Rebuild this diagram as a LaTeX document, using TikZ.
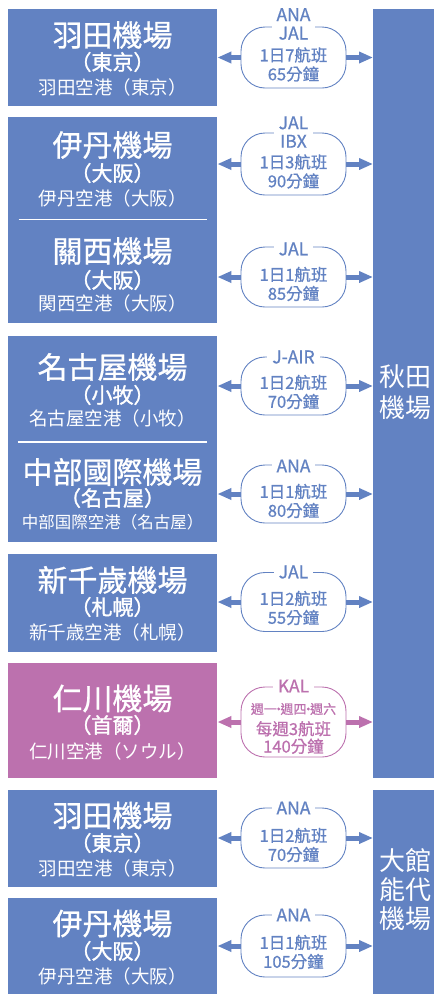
\documentclass[tikz,border=0pt]{standalone}
\usepackage{fontspec}
\usetikzlibrary{arrows.meta}
\newfontfamily\cjk{Noto Sans CJK TC}
\newfontfamily\cjkm[FakeBold=0.8]{Noto Sans CJK TC}
\newfontfamily\cjkb[FakeBold=1.5]{Noto Sans CJK TC}
\definecolor{ablue}{HTML}{6282C2}
\definecolor{apink}{HTML}{BC71AE}
\newcommand{\fsz}[2]{\fontsize{#1}{#2}\selectfont}
\newcommand{\mdot}{\kern-0.36em·\kern-0.36em}
\begin{document}
\begin{tikzpicture}[x=1pt,y=-1pt,
  apbox/.style={fill=ablue, draw=none, inner sep=0, anchor=north west},
  ttl/.style={text=white, inner sep=0, font=\cjkm\fsz{30}{30}},
  brk/.style={text=white, inner sep=0, font=\cjkb\fsz{21}{21}},
  subt/.style={text=white, inner sep=0, font=\cjk\fsz{18.5}{18.5}},
  rtxt/.style={text=white, inner sep=0, anchor=west, align=left, font=\cjk\fsz{26}{31}},
  bub/.style={draw=ablue, line width=0.9pt, rounded corners=24pt, minimum width=105pt, inner sep=0},
  lbl/.style={text=ablue, fill=white, inner xsep=5pt, inner ysep=1pt, align=center, font=\cjkm\fsz{17.5}{18.5}},
  cnt/.style={text=ablue, inner sep=0, align=center, font=\cjkm\fsz{16.5}{19}},
  arr/.style={draw=ablue, line width=5pt, -{Triangle[length=14pt,width=11pt]}},
  divl/.style={draw=white, line width=1.8pt},
]
\useasboundingbox (0,0) rectangle (434,994);

% ---------- right boxes ----------
\node[apbox, minimum width=61pt, minimum height=769pt] (akita) at (373,9) {};
\node[rtxt] (akitaT) at (379.5,392) {秋田\\機場};
\node[apbox, minimum width=61pt, minimum height=204pt] (odate) at (373,790) {};
\node[rtxt, font=\cjk\fsz{26}{29}] (odateT) at (379.5,890) {大館\\能代\\機場};

% ---------- left boxes ----------
\node[apbox, minimum width=209pt, minimum height=97pt] (hnd) at (8,9) {};
\node[ttl] (hndA) at (112.5,35) {羽田機場};
\node[brk] (hndB) at (112.5,62) {（東京）};
\node[subt] (hndC) at (112.5,87) {羽田空港（東京）};

\node[apbox, minimum width=209pt, minimum height=206pt] (osa) at (8,117) {};
\node[ttl] (itmA) at (112.5,145) {伊丹機場};
\node[brk] (itmB) at (112.5,173) {（大阪）};
\node[subt] (itmC) at (112.5,198) {伊丹空港（大阪）};
\coordinate (osaL) at (18.5,219.5);
\coordinate (osaR) at (207,219.5);
\draw[divl] (osaL) -- (osaR);
\node[ttl] (kixA) at (112.5,251) {關西機場};
\node[brk] (kixB) at (112.5,280) {（大阪）};
\node[subt] (kixC) at (112.5,303) {関西空港（大阪）};

\node[apbox, minimum width=209pt, minimum height=206pt] (ngo) at (8,336) {};
\node[ttl] (nkmA) at (112.5,367) {名古屋機場};
\node[brk] (nkmB) at (112.5,395) {（小牧）};
\node[subt] (nkmC) at (112.5,418) {名古屋空港（小牧）};
\coordinate (ngoL) at (17.5,442);
\coordinate (ngoR) at (207,442);
\draw[divl] (ngoL) -- (ngoR);
\node[ttl] (ngoA) at (112.5,472) {中部國際機場};
\node[brk] (ngoB) at (112.5,498) {（名古屋）};
\node[subt, font=\cjk\fsz{16.5}{16.5}] (ngoC) at (112.5,522) {中部国際空港（名古屋）};

\node[apbox, minimum width=209pt, minimum height=98pt] (cts) at (8,554) {};
\node[ttl] (ctsA) at (112.5,580) {新千歲機場};
\node[brk] (ctsB) at (112.5,607) {（札幌）};
\node[subt] (ctsC) at (112.5,632) {新千歳空港（札幌）};

\node[apbox, fill=apink, minimum width=209pt, minimum height=115pt] (icn) at (8,663) {};
\node[ttl] (icnA) at (112.5,698.5) {仁川機場};
\node[brk] (icnB) at (112.5,725) {（首爾）};
\node[subt] (icnC) at (112.5,751) {仁川空港（ソウル）};

\node[apbox, minimum width=209pt, minimum height=97pt] (hnd2) at (8,790) {};
\node[ttl] (hnd2A) at (112.5,815.5) {羽田機場};
\node[brk] (hnd2B) at (112.5,843) {（東京）};
\node[subt] (hnd2C) at (112.5,868) {羽田空港（東京）};

\node[apbox, minimum width=209pt, minimum height=96pt] (itm2) at (8,898) {};
\node[ttl] (itm2A) at (112.5,923.5) {伊丹機場};
\node[brk] (itm2B) at (112.5,951) {（大阪）};
\node[subt] (itm2C) at (112.5,976) {伊丹空港（大阪）};

% ---------- routes ----------
% 1 Haneda
\node[bub, minimum height=61pt] (r1) at (293.5,57.5) {};
\node[lbl] (r1a) at (293.5,24) {ANA\\JAL};
\node[cnt] (r1c) at (293.5,64.5) {1日7航班\\65分鐘};
\draw[arr] (r1.west) -- (r1.west -| hnd.east);
\draw[arr] (r1.east) -- (r1.east -| akita.west);
% 2 Itami
\node[bub, minimum height=62pt] (r2) at (293.5,164) {};
\node[lbl] (r2a) at (293.5,132) {JAL\\IBX};
\node[cnt] (r2c) at (293.5,171.5) {1日3航班\\90分鐘};
\draw[arr] (r2.west) -- (r2.west -| osa.east);
\draw[arr] (r2.east) -- (r2.east -| akita.west);
% 3 Kansai
\node[bub, minimum height=60pt] (r3) at (293.5,277) {};
\node[lbl] (r3a) at (293.5,249) {JAL};
\node[cnt] (r3c) at (293.5,284) {1日1航班\\85分鐘};
\draw[arr] (r3.west) -- (r3.west -| osa.east);
\draw[arr] (r3.east) -- (r3.east -| akita.west);
% 4 Komaki
\node[bub, minimum height=58pt] (r4) at (293.5,386) {};
\node[lbl] (r4a) at (293.5,357) {J-AIR};
\node[cnt] (r4c) at (293.5,392) {1日2航班\\70分鐘};
\draw[arr] (r4.west) -- (r4.west -| ngo.east);
\draw[arr] (r4.east) -- (r4.east -| akita.west);
% 5 Chubu
\node[bub, minimum height=58pt] (r5) at (293.5,494) {};
\node[lbl] (r5a) at (293.5,466) {ANA};
\node[cnt] (r5c) at (293.5,501) {1日1航班\\80分鐘};
\draw[arr] (r5.west) -- (r5.west -| ngo.east);
\draw[arr] (r5.east) -- (r5.east -| akita.west);
% 6 New Chitose
\node[bub, minimum height=59pt] (r6) at (293.5,602) {};
\node[lbl] (r6a) at (293.5,572) {JAL};
\node[cnt] (r6c) at (293.5,608) {1日2航班\\55分鐘};
\draw[arr] (r6.west) -- (r6.west -| cts.east);
\draw[arr] (r6.east) -- (r6.east -| akita.west);
% 7 Incheon
\node[bub, draw=apink, minimum height=70pt] (r7) at (293.5,722) {};
\node[lbl, text=apink] (r7a) at (293.5,686) {KAL};
\node[cnt, text=apink, font=\cjkm\fsz{13}{13}] (r7d) at (293.5,709) {週一\mdot 週四\mdot 週六};
\node[cnt, text=apink, font=\cjkm\fsz{16.5}{17.5}] (r7c) at (293.5,737.5) {每週3航班\\140分鐘};
\draw[arr, draw=apink] (r7.west) -- (r7.west -| icn.east);
\draw[arr, draw=apink] (r7.east) -- (r7.east -| akita.west);
% 8 Haneda - Odate
\node[bub, minimum height=60pt] (r8) at (293.5,838) {};
\node[lbl] (r8a) at (293.5,808) {ANA};
\node[cnt] (r8c) at (293.5,845) {1日2航班\\70分鐘};
\draw[arr] (r8.west) -- (r8.west -| hnd2.east);
\draw[arr] (r8.east) -- (r8.east -| odate.west);
% 9 Itami - Odate
\node[bub, minimum height=62pt] (r9) at (293.5,946) {};
\node[lbl] (r9a) at (293.5,915) {ANA};
\node[cnt] (r9c) at (293.5,952) {1日1航班\\105分鐘};
\draw[arr] (r9.west) -- (r9.west -| itm2.east);
\draw[arr] (r9.east) -- (r9.east -| odate.west);
\end{tikzpicture}
\end{document}
